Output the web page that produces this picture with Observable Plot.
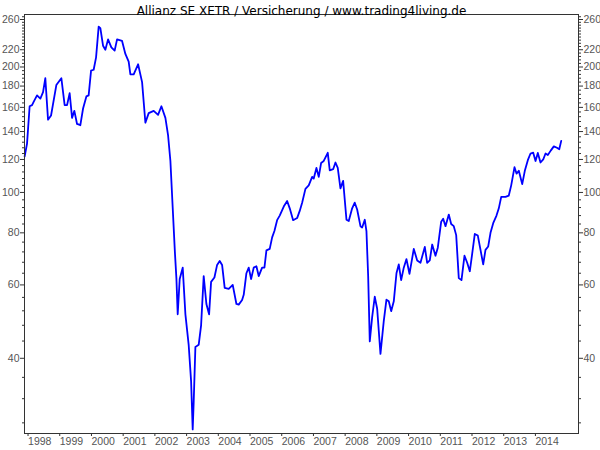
<!DOCTYPE html>
<html>
<head>
<meta charset="utf-8">
<script src="https://cdn.jsdelivr.net/npm/d3@7"></script>
<script src="https://cdn.jsdelivr.net/npm/@observablehq/plot@0.6"></script>
<style>
  html, body { margin: 0; padding: 0; background: #fff; }
</style>
</head>
<body>
<div id="chart"></div>
<script>
const title = "Allianz SE XETR / Versicherung / www.trading4living.de";

// decimal year of each observation
const times = [
  1997.924, 1998.000, 1998.082, 1998.158, 1998.208, 1998.315, 1998.420, 1998.505, 1998.577, 1998.662,
  1998.757, 1998.924, 1999.082, 1999.186, 1999.262, 1999.344, 1999.420, 1999.492, 1999.577, 1999.681,
  1999.767, 1999.871, 1999.943, 2000.019, 2000.101, 2000.177, 2000.259, 2000.312, 2000.397, 2000.470,
  2000.555, 2000.659, 2000.763, 2000.839, 2000.997, 2001.101, 2001.205, 2001.259, 2001.363, 2001.502,
  2001.628, 2001.732, 2001.836, 2001.994, 2002.132, 2002.237, 2002.363, 2002.448, 2002.521, 2002.593,
  2002.662, 2002.710, 2002.751, 2002.814, 2002.909, 2002.994, 2003.098, 2003.174, 2003.224, 2003.256,
  2003.309, 2003.413, 2003.489, 2003.571, 2003.656, 2003.741, 2003.804, 2003.909, 2003.994, 2004.076,
  2004.151, 2004.233, 2004.360, 2004.486, 2004.603, 2004.675, 2004.782, 2004.833, 2004.918, 2004.991,
  2005.066, 2005.148, 2005.233, 2005.306, 2005.413, 2005.486, 2005.549, 2005.653, 2005.729, 2005.801,
  2005.886, 2005.968, 2006.095, 2006.202, 2006.284, 2006.391, 2006.517, 2006.599, 2006.675, 2006.779,
  2006.883, 2006.991, 2007.041, 2007.126, 2007.199, 2007.274, 2007.356, 2007.483, 2007.546, 2007.653,
  2007.726, 2007.798, 2007.883, 2007.968, 2008.073, 2008.145, 2008.252, 2008.334, 2008.410, 2008.514,
  2008.568, 2008.650, 2008.703, 2008.757, 2008.808, 2008.883, 2008.965, 2009.041, 2009.145, 2009.249,
  2009.334, 2009.407, 2009.483, 2009.565, 2009.650, 2009.722, 2009.798, 2009.880, 2009.965, 2010.060,
  2010.196, 2010.303, 2010.407, 2010.543, 2010.618, 2010.700, 2010.776, 2010.880, 2010.953, 2011.060,
  2011.123, 2011.196, 2011.300, 2011.375, 2011.457, 2011.533, 2011.615, 2011.700, 2011.795, 2011.880,
  2011.962, 2012.038, 2012.120, 2012.215, 2012.300, 2012.385, 2012.457, 2012.543, 2012.615, 2012.700,
  2012.804, 2012.877, 2012.953, 2013.088, 2013.192, 2013.268, 2013.372, 2013.435, 2013.508, 2013.615,
  2013.697, 2013.792, 2013.877, 2013.962, 2014.035, 2014.107, 2014.192, 2014.278, 2014.350, 2014.423,
  2014.514, 2014.612, 2014.710, 2014.783, 2014.845
];

// closing price (EUR)
const prices = [
  122, 131, 161, 162, 165, 171, 168, 174, 188, 149.5,
  153, 181, 188, 162, 162, 173, 151, 157, 146, 145,
  159, 170, 171, 196, 197, 211, 250, 248, 225, 220,
  233, 223, 219, 233, 231, 215, 206, 192, 192, 203,
  184, 147, 155, 157, 153.5, 161, 151, 137, 119, 92,
  72, 62.3, 51, 62, 66, 51, 43, 35.2, 27, 31.5,
  42.6, 43.1, 48, 63, 54, 51, 61, 62.5, 67, 68.5,
  67, 59, 58.7, 60, 54, 53.8, 55.2, 56.8, 64, 66,
  62, 66, 66.5, 63, 66, 66, 72.6, 73.2, 78, 80.8,
  85.8, 88, 92.5, 95.4, 91.6, 85.8, 86.8, 90.3, 94.5, 102,
  104, 109, 108, 114.5, 109, 117.7, 119, 124.5, 113, 113.7,
  118, 114.5, 102.3, 106.6, 86, 85.4, 91.6, 94.5, 91, 83,
  82.4, 86, 80.8, 63, 43.9, 50.2, 56.2, 52.6, 41, 49.1,
  55.3, 54.8, 51.9, 54.8, 64, 67.2, 61.6, 66, 69.2, 63.8,
  73.2, 68.7, 67.8, 74, 67.8, 68.7, 75, 70.5, 73.7, 85.1,
  86.5, 83, 88.5, 84, 83, 79, 62.3, 61.6, 70.5, 67.8,
  64.7, 71.3, 79.5, 78.8, 72.8, 67.2, 72.8, 74.2, 80, 84.4,
  88, 91.6, 97.6, 97.6, 98.3, 104, 115, 111, 112.7, 104.7,
  112.7, 119.5, 124, 124.6, 119, 124.4, 118, 120, 124, 123,
  126, 129, 128, 127, 133
];

const yLabelTicks = [40, 60, 80, 100, 120, 140, 160, 180, 200, 220, 260];
const yMinorTicks = [28, 32, 36, 44, 48, 52, 56, 64, 68, 72, 76, 84, 88, 92, 96, 104, 108, 112, 116,
  124, 128, 132, 136, 144, 148, 152, 156, 164, 168, 172, 176, 184, 188, 192, 196, 204, 208, 212, 216,
  224, 228, 232, 236, 240, 244, 248, 252, 256, 264];
const xTickYears = [1998, 1999, 2000, 2001, 2002, 2003, 2004, 2005, 2006, 2007, 2008, 2009, 2010, 2011, 2012, 2013, 2014];

const data = times.map((t, i) => ({t, v: prices[i]}));

const axisColor = "#333";
const labelColor = "#555";

const chart = Plot.plot({
  width: 600,
  height: 450,
  marginTop: 14,
  marginBottom: 17,
  marginLeft: 24,
  marginRight: 22,
  style: {fontFamily: "Liberation Sans, Arial, sans-serif", fontSize: "10.5px", background: "#fff"},
  x: {type: "linear", domain: [1997.92, 2015.39], label: null},
  y: {type: "log", domain: [26.4, 267.3], label: null},
  marks: [
    Plot.axisY(yMinorTicks, {anchor: "left", label: null, tickSize: 2, stroke: axisColor, tickFormat: () => ""}),
    Plot.axisY(yMinorTicks, {anchor: "right", label: null, tickSize: 2, stroke: axisColor, tickFormat: () => ""}),
    Plot.axisY(yLabelTicks, {anchor: "left", label: null, tickSize: 4, tickPadding: 1, stroke: axisColor, fill: labelColor, tickFormat: d => String(d)}),
    Plot.axisY(yLabelTicks, {anchor: "right", label: null, tickSize: 4, tickPadding: 1, stroke: axisColor, fill: labelColor, tickFormat: d => String(d)}),
    Plot.axisX(xTickYears, {anchor: "bottom", label: null, tickSize: 3, tickPadding: 1, stroke: axisColor, fill: labelColor, textAnchor: "start", dx: 1, tickFormat: d => String(d)}),
    Plot.line(data, {x: "t", y: "v", stroke: "#0000ff", strokeWidth: 1.8}),
    Plot.frame({stroke: axisColor}),
    Plot.text([title], {frameAnchor: "top", dy: -8, fill: "#000", fontSize: 12, fontFamily: "DejaVu Sans, sans-serif"})
  ]
});

document.getElementById("chart").appendChild(chart);
</script>
</body>
</html>
